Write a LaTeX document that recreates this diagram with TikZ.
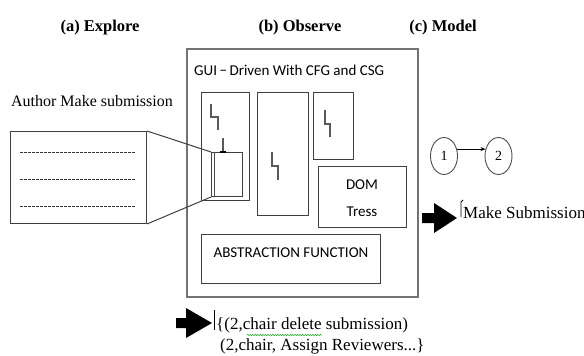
\documentclass[tikz,border=0pt]{standalone}
\usepackage{fontspec}
\setmainfont{Liberation Serif}
\newfontfamily\sansfnt{Carlito}
\usetikzlibrary{arrows.meta,shapes.geometric,decorations.pathmorphing}
\begin{document}
\begin{tikzpicture}[x=1pt,y=-1pt,
  box/.style={draw=black!75, line width=1pt, inner sep=0pt, anchor=north west},
  titletext/.style={font=\fontsize{16.5}{19}\selectfont\bfseries, inner sep=0pt},
  serifbig/.style={font=\fontsize{16}{19}\selectfont, inner sep=0pt},
  seriflow/.style={font=\fontsize{17}{19}\selectfont, inner sep=0pt},
  sanstext/.style={font=\sansfnt\fontsize{15}{17}\selectfont, inner sep=0pt},
  dashline/.style={draw=black!80, line width=0.8pt, dash pattern=on 2.6pt off 1.4pt},
  zig/.style={draw=black!65, line width=1.3pt},
  ell/.style={ellipse, draw=black!70, line width=0.9pt, minimum width=27pt, minimum height=37pt, inner sep=0pt, font=\fontsize{14}{15}\selectfont},
  blockarrow/.style={fill=black}
]
\useasboundingbox (0,0) rectangle (584,356);

% titles
\node[titletext] (ta) at (100,28) {(a) Explore};
\node[titletext] (tb) at (300,28) {(b) Observe};
\node[titletext] (tc) at (443,28) {(c) Model};

% author label
\node[serifbig] (author) at (92,101) {Author Make submission};

% document box
\node[box, minimum width=136pt, minimum height=92pt] (doc) at (10,131) {};
\draw[dashline] (20,152) -- (135,152);
\draw[dashline] (20,179) -- (135,179);
\draw[dashline] (20,206) -- (135,206);

% outer box
\node[box, draw=black!55, line width=1.6pt, minimum width=231pt, minimum height=248pt] (outer) at (186,48) {};
\node[sanstext, anchor=west] (gui) at (194,70) {GUI\,−\,Driven With CFG and CSG};

% inner boxes
\node[box, minimum width=48pt, minimum height=108pt] (boxa) at (201,92) {};
\node[box, minimum width=31pt, minimum height=44pt] (inner) at (211,152) {};
\draw[black!70, line width=0.8pt] (214,152) -- (214,196);
\node[box, minimum width=51pt, minimum height=123pt] (boxb) at (257,92) {};
\node[box, minimum width=40pt, minimum height=67pt] (boxc) at (313,92) {};
\node[box, minimum width=88pt, minimum height=61pt] (dom) at (318,166) {};
\node[sanstext] (domt) at (362,185) {DOM};
\node[sanstext] (trt) at (362,212) {Tress};
\node[box, minimum width=179pt, minimum height=49pt] (abs) at (201,234) {};
\node[sanstext] (abst) at (291,253) {ABSTRACTION FUNCTION};

% zigzag glyphs
\draw[zig] (211,104) -- (211,117) -- (218,117) -- (218,130);
\draw[zig] (223,138) -- (223,151);
\fill[black] (220,151) rectangle (226,153);
\draw[zig] (272,152) -- (272,166) -- (278,166) -- (278,180);
\draw[zig] (325,110) -- (325,124) -- (330,124) -- (330,137);

% trapezoid connectors
\draw[black!75, line width=1pt] (doc.north east) -- (inner.north west);
\draw[black!75, line width=1pt] (doc.south east) -- (inner.south west);

% model
\node[ell] (n1) at (444,156) {1};
\node[ell] (n2) at (498.5,156) {2};
\draw[-{Stealth[length=5pt,width=4pt]}, line width=0.8pt] (n1.28) -- (n2.152);

% right block arrow
\fill[blockarrow] (422,213) -- (434,213) -- (434,203) -- (457,218) -- (434,233) -- (434,223) -- (422,223) -- cycle;
\draw[line width=0.9pt] (461,217) -- (461,202) -- (463,200);
\node[seriflow, anchor=west] (ms) at (463,213) {Make Submission};

% bottom block arrow
\fill[blockarrow] (176,318) -- (186,318) -- (186,308) -- (212,323) -- (186,338) -- (186,328) -- (176,328) -- cycle;
\draw[line width=0.9pt] (214,310) -- (214,330);
\node[seriflow, anchor=west] (l1) at (216,325) {\{(2,chair delete submission)};
\node[seriflow, anchor=west] (l2) at (220,346) {(2,chair, Assign Reviewers...\}};
\draw[green!60!black, line width=0.5pt, decorate, decoration={snake, amplitude=0.6pt, segment length=2.5pt}] (247,335) -- (322,335);
\end{tikzpicture}
\end{document}
